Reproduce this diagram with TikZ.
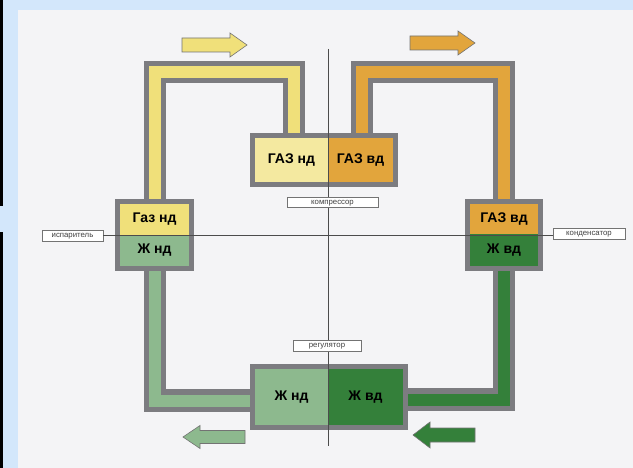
\documentclass[tikz,border=0pt]{standalone}
\usepackage{fontspec}
\setmainfont{Liberation Sans}
\definecolor{bgblue}{HTML}{D3E7FB}
\definecolor{paper}{HTML}{F4F4F6}
\definecolor{pgray}{HTML}{7C7C80}
\definecolor{yel}{HTML}{F0E07A}
\definecolor{yellight}{HTML}{F4E9A0}
\definecolor{orn}{HTML}{E2A53C}
\definecolor{lgreen}{HTML}{8DB98E}
\definecolor{dgreen}{HTML}{34803A}
\pgfdeclarelayer{bg0}
\pgfdeclarelayer{pipes}
\pgfsetlayers{bg0,pipes,main}
\tikzset{
  pipe/.style={draw=pgray, line width=5pt, double distance=12pt, line join=miter, line cap=butt},
  cell/.style={rectangle, inner sep=0pt, font=\bfseries\fontsize{14}{14}\selectfont, text=black},
  frame/.style={rectangle, draw=pgray, line width=5pt, inner sep=0pt},
  tag/.style={rectangle, draw=black!55, line width=0.6pt, fill=white, inner sep=0pt, minimum height=11pt, text height=4pt, text depth=0pt, font=\fontsize{7.8}{7.8}\selectfont, text=black!75},
  axisline/.style={draw=black!70, line width=0.8pt},
  blockarrow/.style={draw=black!55, line width=0.6pt, line join=miter}
}
\begin{document}
\begin{tikzpicture}[x=1pt,y=-1pt]
\useasboundingbox (0,0) rectangle (633,468);
\begin{pgfonlayer}{bg0}
\fill[bgblue] (0,0) rectangle (633,468);
\fill[paper] (18,10) rectangle (633,468);
\draw[black, line width=2.5pt] (-5,-5) -- (1.5,-5) -- (1.5,204.5) -- (-5,204.5);
\draw[black, line width=2.5pt] (-5,480) -- (1.5,480) -- (1.5,233.5) -- (-5,233.5);
\end{pgfonlayer}

% compressor
\node[cell, fill=yellight, minimum width=73pt, minimum height=44pt] (compL) at (291.5,160) {ГАЗ нд};
\node[cell, fill=orn, minimum width=65pt, minimum height=44pt] (compR) at (360.5,160) {ГАЗ вд};
\node[frame, minimum width=143pt, minimum height=49pt] (comp) at (324,160) {};
% evaporator
\node[cell, fill=yel, minimum width=69pt, minimum height=31pt] (evapT) at (154.5,219.5) {Газ нд};
\node[cell, fill=lgreen, minimum width=69pt, minimum height=31pt] (evapB) at (154.5,250.5) {Ж нд};
\node[frame, minimum width=74pt, minimum height=67pt] (evap) at (154.5,235) {};
% condenser
\node[cell, fill=orn, minimum width=68pt, minimum height=30pt] (condT) at (504,219) {ГАЗ вд};
\node[cell, fill=dgreen, minimum width=68pt, minimum height=32pt] (condB) at (504,250) {Ж вд};
\node[frame, minimum width=73pt, minimum height=67pt] (cond) at (504,235) {};
% regulator
\node[cell, fill=lgreen, minimum width=73pt, minimum height=56pt] (regL) at (291.5,397) {Ж нд};
\node[cell, fill=dgreen, minimum width=75pt, minimum height=56pt] (regR) at (365.5,397) {Ж вд};
\node[frame, minimum width=153pt, minimum height=61pt] (reg) at (329,397) {};

% pipes
\coordinate (y1) at (154.5,72.5);
\coordinate (y2) at (294,72.5);
\coordinate (o1) at (362,72);
\coordinate (o2) at (504,72);
\coordinate (g1) at (154.5,400.5);
\coordinate (g2) at (504,399.5);
\begin{pgfonlayer}{pipes}
\draw[pipe, double=yel] (evap.north) -- (y1) -- (y2) -- (y2 |- comp.north);
\draw[pipe, double=orn] (comp.north -| o1) -- (o1) -- (o2) -- (cond.north);
\draw[pipe, double=lgreen] (evap.south) -- (g1) -- (g1 -| reg.west);
\draw[pipe, double=dgreen] (cond.south) -- (g2) -- (g2 -| reg.east);
\end{pgfonlayer}

% axes
\coordinate (vtop) at (328,49);
\coordinate (vbot) at (328,446);
\draw[axisline] (vtop) -- (vbot);
\node[tag, minimum width=61pt] (levap) at (72.5,235.5) {испаритель};
\node[tag, minimum width=72pt] (lcond) at (589,233.5) {конденсатор};
\draw[axisline] (levap.east) -- (levap.east -| lcond.west);
\node[tag, minimum width=91pt, minimum height=10pt] (lcomp) at (332.5,202.5) {компрессор};
\node[tag, minimum width=68pt] (lreg) at (327,346) {регулятор};

% flow arrows
\draw[blockarrow, fill=yel] (182,38) -- (230,38) -- (230,33) -- (247,45) -- (230,57) -- (230,52) -- (182,52) -- cycle;
\draw[blockarrow, fill=orn] (410,36) -- (458,36) -- (458,31) -- (475,43) -- (458,55) -- (458,50) -- (410,50) -- cycle;
\draw[blockarrow, fill=lgreen] (245,430.5) -- (200,430.5) -- (200,425.5) -- (183,437) -- (200,448.5) -- (200,443.5) -- (245,443.5) -- cycle;
\draw[blockarrow, fill=dgreen] (475,428) -- (430,428) -- (430,422) -- (413,435) -- (430,448) -- (430,442) -- (475,442) -- cycle;
\end{tikzpicture}
\end{document}
